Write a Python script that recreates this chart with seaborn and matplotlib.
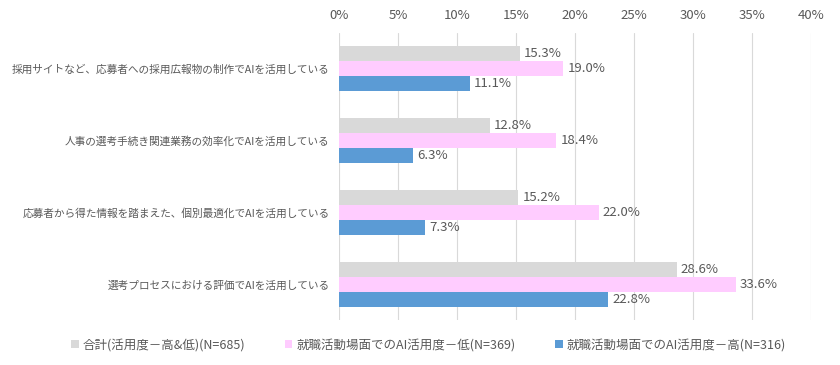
import pandas as pd
import matplotlib
matplotlib.use("Agg")
import matplotlib.pyplot as plt
import seaborn as sns

categories = [
    "採用サイトなど、応募者への採用広報物の制作でAIを活用している",
    "人事の選考手続き関連業務の効率化でAIを活用している",
    "応募者から得た情報を踏まえた、個別最適化でAIを活用している",
    "選考プロセスにおける評価でAIを活用している",
]
series = [
    "合計(活用度－高&低)(N=685)",
    "就職活動場面でのAI活用度－低(N=369)",
    "就職活動場面でのAI活用度－高(N=316)",
]
total = [15.3, 12.8, 15.2, 28.6]
low = [19.0, 18.4, 22.0, 33.6]
high = [11.1, 6.3, 7.3, 22.8]
colors = ["#d9d9d9", "#ffccff", "#5b9bd5"]

rows = []
for s, vals in zip(series, [total, low, high]):
    for c, v in zip(categories, vals):
        rows.append({"category": c, "series": s, "value": v})
df = pd.DataFrame(rows)

sns.set_style("white")
plt.rcParams["font.family"] = ["Noto Sans CJK JP", "DejaVu Sans"]
txt = "#595959"

fig = plt.figure(figsize=(8.4, 3.65), dpi=100)
ax = fig.add_axes([0.4036, 0.123, 0.562, 0.787])

sns.barplot(data=df, y="category", x="value", hue="series", orient="h",
            palette=colors, width=0.63, ax=ax, saturation=1, legend=True,
            linewidth=0)

for cont in ax.containers:
    ax.bar_label(cont, labels=[f"{v:.1f}%" for v in cont.datavalues],
                 padding=3, fontsize=9.5, color=txt)

ax.set_xlim(0, 40)
ax.set_xticks(range(0, 41, 5))
ax.set_xticklabels([f"{t}%" for t in range(0, 41, 5)])
ax.xaxis.tick_top()
ax.tick_params(axis="x", length=0, labelsize=9.5, colors=txt, pad=8)
ax.tick_params(axis="y", length=0, labelsize=7.7, colors=txt, pad=7)
ax.grid(axis="x", color="#d9d9d9", linewidth=0.8)
ax.set_axisbelow(True)
ax.set_xlabel("")
ax.set_ylabel("")
for sp in ax.spines.values():
    sp.set_visible(False)

handles, labels = ax.get_legend_handles_labels()
ax.legend_.remove()
fig.legend(handles, labels, loc="center", bbox_to_anchor=(0.51, 0.055), ncol=3,
           frameon=False, fontsize=9, labelcolor=txt, handlelength=0.6,
           handleheight=0.6, handletextpad=0.3, columnspacing=3.2)

fig.savefig("out.png", dpi=100)
